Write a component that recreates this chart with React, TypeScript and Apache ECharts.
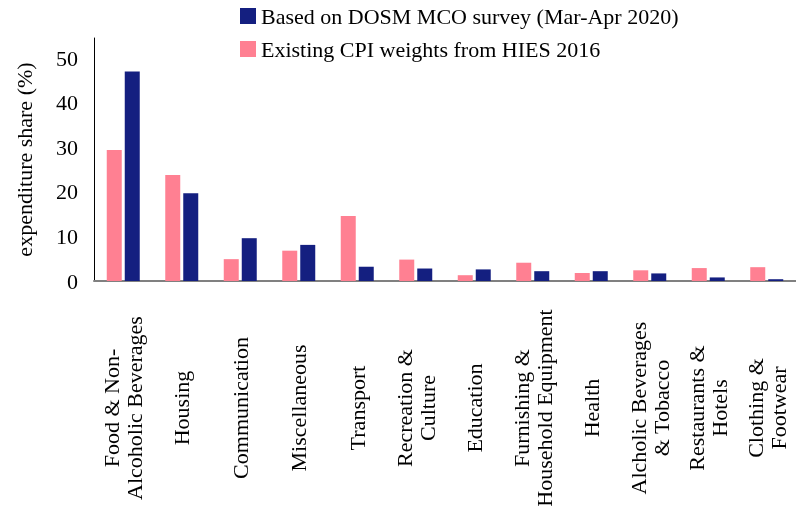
import React, { useEffect, useRef } from "react";
import * as echarts from "echarts";

const categories = [
  "Food & Non-\nAlcoholic Beverages",
  "Housing",
  "Communication",
  "Miscellaneous",
  "Transport",
  "Recreation &\nCulture",
  "Education",
  "Furnishing &\nHousehold Equipment",
  "Health",
  "Alcholic Beverages\n& Tobacco",
  "Restaurants &\nHotels",
  "Clothing &\nFootwear",
];

const hiesName = "Existing CPI weights from HIES 2016";
const dosmName = "Based on DOSM MCO survey (Mar-Apr 2020)";

const hiesValues = [29.4, 23.8, 4.9, 6.8, 14.6, 4.8, 1.3, 4.1, 1.8, 2.4, 2.9, 3.1];
const dosmValues = [47.0, 19.7, 9.6, 8.1, 3.2, 2.8, 2.6, 2.2, 2.2, 1.7, 0.8, 0.4];

const yMin = 0;
const yMax = 54.5;
const yInterval = 10;

const FONT = "Liberation Serif";
const FS = 22;

export default function App() {
  const ref = useRef<HTMLDivElement>(null);
  useEffect(() => {
    if (!ref.current) return;
    const chart = echarts.init(ref.current, null, { renderer: "svg" });
    chart.setOption({
      animation: false,
      textStyle: { fontFamily: FONT, color: "#000" },
      legend: {
        orient: "vertical",
        left: 240,
        top: 5,
        padding: 0,
        itemWidth: 16,
        itemHeight: 16,
        itemGap: 11,
        icon: "rect",
        data: [dosmName, hiesName],
        textStyle: { fontFamily: FONT, fontSize: FS, lineHeight: 22, color: "#000" },
      },
      grid: { left: 94, right: -6, top: 38, bottom: 233, containLabel: false },
      xAxis: {
        type: "category",
        data: categories,
        axisLine: { show: true, lineStyle: { color: "#808080", width: 2 } },
        axisTick: { show: false },
        axisLabel: {
          rotate: 90,
          interval: 0,
          align: "center",
          verticalAlign: "middle",
          margin: 127,
          fontFamily: FONT,
          fontSize: FS,
          lineHeight: 23,
          color: "#000",
        },
        splitLine: { show: false },
      },
      yAxis: {
        type: "value",
        min: yMin,
        max: yMax,
        interval: yInterval,
        name: "expenditure share (%)",
        nameLocation: "middle",
        nameGap: 70,
        nameRotate: 90,
        nameTextStyle: {
          fontFamily: FONT,
          fontSize: FS,
          color: "#000",
          verticalAlign: "middle",
        },
        axisLine: { show: true, lineStyle: { color: "#000", width: 1 } },
        axisTick: { show: false },
        splitLine: { show: false },
        axisLabel: {
          showMaxLabel: false,
          margin: 16,
          fontFamily: FONT,
          fontSize: FS,
          color: "#000",
        },
      },
      series: [
        {
          name: hiesName,
          type: "bar",
          data: hiesValues,
          barWidth: 15,
          barGap: "20%",
          itemStyle: { color: "#FF8092" },
        },
        {
          name: dosmName,
          type: "bar",
          data: dosmValues,
          barWidth: 15,
          barGap: "20%",
          itemStyle: { color: "#141F80" },
        },
      ],
    });
    return () => chart.dispose();
  }, []);
  return (
    <div
      ref={ref}
      style={{ position: "fixed", left: 0, top: 0, width: 796, height: 514 }}
    />
  );
}
